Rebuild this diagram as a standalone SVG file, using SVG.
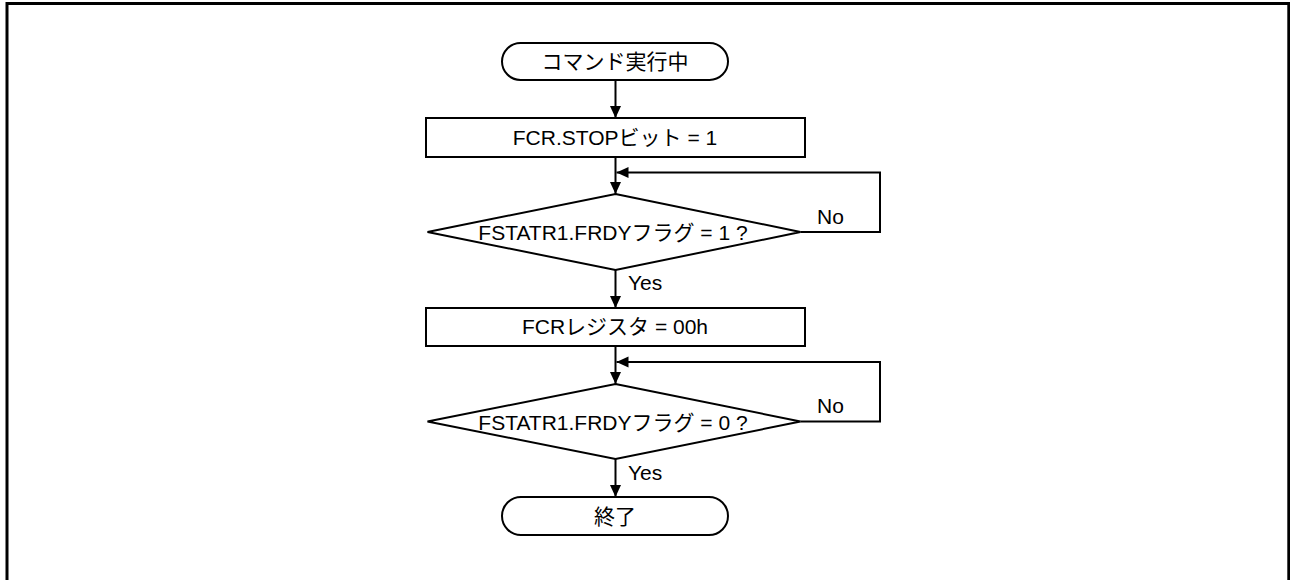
<svg xmlns="http://www.w3.org/2000/svg" width="1290" height="580" viewBox="0 0 1290 580">
<style>
.shape{fill:#fff;stroke:#000;stroke-width:2}
.line{fill:none;stroke:#000;stroke-width:2}
.t{font-family:"Liberation Sans","Noto Sans CJK JP",Arial,sans-serif;font-size:21px;fill:#000}
.c{text-anchor:middle}
</style>
<defs>
<marker id="ah" markerUnits="userSpaceOnUse" markerWidth="12" markerHeight="12" viewBox="0 0 12 12" refX="12" refY="6" orient="auto">
<path d="M0,0.5 L12,6 L0,11.5 Z" fill="#000"/>
</marker>
</defs>
<rect width="1290" height="580" fill="#fff"/>
<path d="M7,582 V3.5 H1288.8 V582" fill="none" stroke="#000" stroke-width="3"/>
<g id="connectors">
<line class="line" x1="615.5" y1="80" x2="615.5" y2="118" marker-end="url(#ah)"/>
<line class="line" x1="615.5" y1="157" x2="615.5" y2="194" marker-end="url(#ah)"/>
<polyline class="line" points="800.5,232 880,232 880,172.5 616.5,172.5" marker-end="url(#ah)"/>
<line class="line" x1="615.5" y1="270" x2="615.5" y2="308" marker-end="url(#ah)"/>
<line class="line" x1="615.5" y1="346" x2="615.5" y2="384" marker-end="url(#ah)"/>
<polyline class="line" points="800.5,421.5 880,421.5 880,362 616.5,362" marker-end="url(#ah)"/>
<line class="line" x1="615.5" y1="459" x2="615.5" y2="497" marker-end="url(#ah)"/>
<text class="t" x="817" y="223.5">No</text>
<text class="t" x="628" y="290">Yes</text>
<text class="t" x="817" y="413">No</text>
<text class="t" x="628" y="479.5">Yes</text>
</g>
<g id="start">
<rect class="shape" x="502" y="43" width="226" height="37" rx="18.5" ry="18.5"/>
<text class="t c" x="615" y="69">コマンド実行中</text>
</g>
<g id="stop-bit">
<rect class="shape" x="426" y="118" width="379" height="39"/>
<text class="t c" x="615" y="144.5">FCR.STOPビット = 1</text>
</g>
<g id="check-frdy1">
<polygon class="shape" points="615.5,194 800.5,232 615.5,270 427.5,232"/>
<text class="t c" x="613" y="240">FSTATR1.FRDYフラグ = 1 ?</text>
</g>
<g id="fcr-clear">
<rect class="shape" x="426" y="308" width="379" height="38"/>
<text class="t c" x="615" y="334">FCRレジスタ = 00h</text>
</g>
<g id="check-frdy0">
<polygon class="shape" points="615.5,384 800.5,421.5 615.5,459 427.5,421.5"/>
<text class="t c" x="613" y="429.5">FSTATR1.FRDYフラグ = 0 ?</text>
</g>
<g id="end">
<rect class="shape" x="502" y="497" width="226" height="38" rx="19" ry="19"/>
<text class="t c" x="615" y="523.5">終了</text>
</g>
</svg>
